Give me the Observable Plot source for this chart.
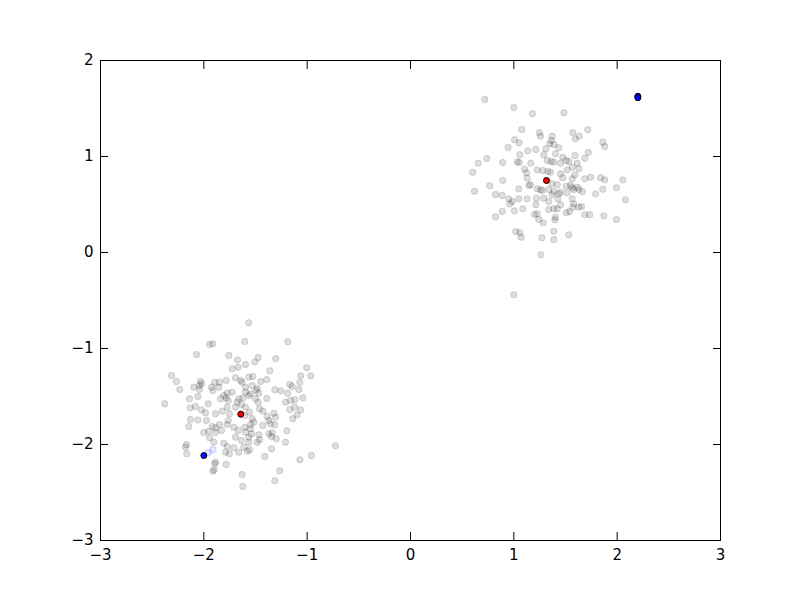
<!DOCTYPE html>
<html>
<head>
<meta charset="utf-8">
<script src="https://cdn.jsdelivr.net/npm/d3@7"></script>
<script src="https://cdn.jsdelivr.net/npm/@observablehq/plot@0.6"></script>
<style>
  html, body { margin: 0; padding: 0; background: #fff; }
  #chart { width: 800px; height: 600px; }
</style>
</head>
<body>
<div id="chart"></div>
<script>
// Upper-right cluster (gray points)
const upperX = [0.719,1.0,1.18,1.077,1.248,1.258,1.362,1.348,1.006,1.052,0.945,1.135,1.213,1.309,1.058,1.29,0.738,0.655,0.893,1.033,1.052,1.164,1.323,1.362,0.603,1.103,1.123,1.226,1.28,1.329,1.355,0.893,1.129,1.161,0.767,0.619,1.048,0.823,0.887,1.258,1.338,
  1.484,1.571,1.633,1.594,1.716,1.371,1.387,1.435,1.861,1.88,1.72,1.687,1.59,1.403,1.474,1.507,1.532,1.387,1.452,1.613,1.629,1.565,1.516,1.452,1.474,1.59,1.565,1.687,1.742,1.839,1.88,2.055,1.371,1.42,1.507,1.565,1.629,1.662,1.861,1.994,1.452,1.79,
  0.951,0.984,0.961,1.048,1.129,1.145,1.226,1.275,1.219,1.29,1.338,1.213,1.338,1.387,0.887,0.823,1.006,1.087,1.2,1.226,1.242,1.284,1.019,1.058,1.071,1.271,1.387,1.261,1.0,1.387,
  1.387,1.435,1.371,1.516,1.58,1.613,1.548,2.081,1.426,1.452,1.565,1.58,1.571,1.629,1.655,1.42,1.507,1.539,1.403,1.397,1.687,1.735,1.871,1.994,1.532];
const upperY = [1.594,1.51,1.445,1.281,1.247,1.211,1.167,1.132,1.174,1.143,1.094,1.059,1.073,1.08,1.018,1.018,0.979,0.93,0.938,0.945,0.938,0.93,0.958,0.948,0.836,0.868,0.83,0.861,0.854,0.844,0.836,0.75,0.774,0.705,0.695,0.639,0.664,0.604,0.594,0.653,0.656,
  1.455,1.25,1.211,1.184,1.278,1.211,1.125,1.091,1.149,1.104,1.042,0.982,1.01,1.028,0.993,0.958,0.948,0.941,0.93,0.93,0.872,0.889,0.861,0.82,0.778,0.809,0.768,0.768,0.784,0.778,0.757,0.757,0.716,0.705,0.691,0.674,0.656,0.635,0.659,0.674,0.628,0.611,
  0.559,0.531,0.507,0.559,0.559,0.698,0.664,0.646,0.566,0.566,0.531,0.497,0.448,0.455,0.427,0.372,0.434,0.455,0.396,0.403,0.344,0.309,0.219,0.205,0.159,0.153,0.135,-0.024,-0.441,0.222,
  0.635,0.611,0.601,0.622,0.656,0.68,0.698,0.549,0.559,0.497,0.559,0.507,0.472,0.472,0.479,0.455,0.414,0.427,0.368,0.341,0.393,0.393,0.382,0.344,0.184];

// Lower-left cluster (gray points)
const lowerX = [-1.565,-1.945,-1.913,-1.604,-2.071,-1.758,-1.674,-1.597,-1.726,-1.668,-2.313,-2.265,-2.233,-2.032,-2.023,-2.042,-1.894,-1.848,-1.784,-1.694,-1.645,-1.629,-1.565,-2.097,-2.042,-1.926,-1.913,-1.855,-1.726,-1.774,-1.807,-1.784,-1.597,-1.597,-1.662,-1.623,-2.139,-2.058,-1.839,-1.764,-2.378,-1.958,-1.677,-1.636,
  -1.187,-1.474,-1.507,-1.304,-1.362,-1.004,-1.062,-0.965,-1.526,-1.449,-1.391,-1.071,-1.168,-1.145,-1.081,-1.532,-1.484,-1.493,-1.468,-1.548,-1.313,-1.255,-1.19,-1.042,-1.12,-1.161,-1.21,-1.391,-1.5,-1.565,
  -2.132,-2.081,-2.023,-1.984,-1.887,-1.822,-1.774,-1.752,-1.694,-1.597,-1.604,-1.558,-2.129,-2.058,-1.974,-1.764,-1.774,-2.146,-1.919,-1.887,-1.848,-1.829,-2.0,-1.952,-1.887,-1.71,-1.668,-1.604,-1.597,-1.548,-1.694,-1.565,-1.945,-1.904,-2.168,-2.177,-2.165,-1.807,-1.774,-1.71,-1.662,-1.613,-1.558,-1.79,-1.752,-1.636,-1.887,-1.894,-1.784,-1.9,-1.913,-1.629,-1.623,
  -1.474,-1.461,-1.429,-1.168,-1.12,-1.097,-1.062,-1.139,-1.532,-1.517,-1.548,-1.387,-1.371,-1.323,-1.306,-1.429,-1.355,-1.313,-1.539,-1.468,-1.371,-1.339,-1.345,-1.3,-1.197,-1.21,-1.565,-1.484,-1.461,-1.58,-1.345,-1.41,-0.726,-0.958,-1.071,-1.265,-1.313];
const lowerY = [-0.732,-0.958,-0.951,-0.927,-1.063,-1.073,-1.118,-1.167,-1.211,-1.195,-1.281,-1.344,-1.427,-1.344,-1.368,-1.385,-1.354,-1.351,-1.333,-1.305,-1.333,-1.351,-1.299,-1.403,-1.427,-1.403,-1.438,-1.403,-1.455,-1.466,-1.49,-1.514,-1.403,-1.455,-1.524,-1.514,-1.524,-1.5,-1.524,-1.542,-1.576,-1.576,-1.559,-1.583,
  -0.93,-1.094,-1.139,-1.107,-1.232,-1.201,-1.284,-1.284,-1.292,-1.344,-1.323,-1.354,-1.375,-1.396,-1.427,-1.385,-1.414,-1.438,-1.466,-1.472,-1.43,-1.441,-1.466,-1.514,-1.534,-1.542,-1.559,-1.521,-1.524,-1.49,
  -1.618,-1.604,-1.639,-1.67,-1.68,-1.653,-1.611,-1.68,-1.611,-1.611,-1.698,-1.664,-1.74,-1.743,-1.75,-1.75,-1.792,-1.813,-1.813,-1.826,-1.792,-1.854,-1.875,-1.861,-1.875,-1.82,-1.854,-1.82,-1.872,-1.836,-1.924,-1.924,-1.93,-1.976,-2.003,-2.028,-2.097,-1.986,-2.021,-2.034,-2.08,-2.028,-2.055,-2.08,-2.097,-1.958,-2.184,-2.201,-2.208,-2.264,-2.278,-2.313,-2.438,
  -1.559,-1.628,-1.653,-1.635,-1.611,-1.691,-1.639,-1.732,-1.732,-1.768,-1.792,-1.708,-1.75,-1.674,-1.716,-1.802,-1.784,-1.795,-1.889,-1.899,-1.889,-1.878,-1.917,-1.941,-1.857,-1.976,-1.976,-1.976,-1.951,-2.07,-2.045,-2.125,-2.014,-2.115,-2.159,-2.274,-2.378];

// Cluster centres (red) and start points (blue)
const centerX = [1.316, -1.642];
const centerY = [0.75, -1.684];
const startX = [2.2, 2.2, -2.0];
const startY = [1.628, 1.612, -2.115];
const trailX = [-1.913, -1.958];
const trailY = [-2.055, -2.086];

const xTicks = [-3, -2, -1, 0, 1, 2, 3];
const yTicks = [-3, -2, -1, 0, 1, 2];

const pts = (xs, ys) => xs.map((x, i) => ({x, y: ys[i]}));
const gray = pts(upperX, upperY).concat(pts(lowerX, lowerY));
const centers = pts(centerX, centerY);
const starts = pts(startX, startY);
const trail = pts(trailX, trailY);

const fmt = d => d < 0 ? "\u2212" + Math.abs(d) : String(d);

const chart = Plot.plot({
  width: 800,
  height: 600,
  marginLeft: 100,
  marginRight: 80,
  marginTop: 60,
  marginBottom: 60,
  style: {fontFamily: "DejaVu Sans", fontSize: "15px", color: "black", background: "white"},
  x: {domain: [-3, 3], label: null},
  y: {domain: [-3, 2], label: null},
  marks: [
    Plot.dot(gray, {x: "x", y: "y", r: 3.2, fill: "black", fillOpacity: 0.13, stroke: "black", strokeOpacity: 0.13, strokeWidth: 1}),
    Plot.dot(trail, {x: "x", y: "y", r: 3.2, fill: "blue", fillOpacity: 0.1, stroke: "blue", strokeOpacity: 0.1}),
    Plot.dot(centers, {x: "x", y: "y", r: 3, fill: "red", stroke: "black", strokeWidth: 1}),
    Plot.dot(starts, {x: "x", y: "y", r: 3, fill: "blue", stroke: "black", strokeWidth: 1}),
    Plot.frame({stroke: "black", strokeWidth: 1}),
    Plot.axisX(xTicks, {anchor: "bottom", label: null, tickSize: -8, tickPadding: 17, tickFormat: fmt, fontSize: 15, fill: "black"}),
    Plot.axisX(xTicks, {anchor: "top", label: null, tickSize: -8, tickFormat: () => ""}),
    Plot.axisY(yTicks, {anchor: "left", label: null, tickSize: -8, tickPadding: 15, tickFormat: fmt, fontSize: 15, fill: "black"}),
    Plot.axisY(yTicks, {anchor: "right", label: null, tickSize: -8, tickFormat: () => ""})
  ]
});
document.getElementById("chart").appendChild(chart);
</script>
</body>
</html>
